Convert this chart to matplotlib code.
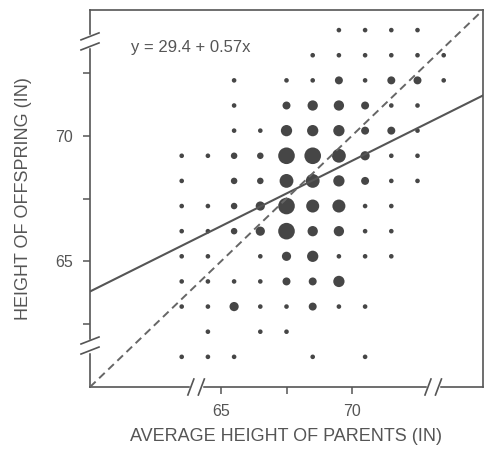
import matplotlib
matplotlib.use("Agg")
import matplotlib.pyplot as plt
from matplotlib.lines import Line2D
import numpy as np

# ---- data ----
parent_heights = [63.5, 64.5, 65.5, 66.5, 67.5, 68.5, 69.5, 70.5, 71.5, 72.5, 73.5]
child_heights = [74.2, 73.2, 72.2, 71.2, 70.2, 69.2, 68.2, 67.2, 66.2, 65.2, 64.2, 63.2, 62.2, 61.2]
# approximate counts per cell (rows = child heights, columns = parent heights)
counts = [
    [0, 0, 0, 0, 0, 0, 1, 1, 1, 1, 0],
    [0, 0, 0, 0, 0, 1, 1, 1, 1, 1, 1],
    [0, 0, 1, 0, 1, 1, 3, 1, 3, 3, 1],
    [0, 0, 1, 0, 3, 5, 5, 3, 1, 1, 0],
    [0, 0, 1, 1, 6, 6, 6, 3, 3, 1, 0],
    [1, 1, 2, 2, 13, 13, 9, 4, 1, 1, 0],
    [1, 0, 2, 2, 9, 9, 6, 3, 1, 1, 0],
    [1, 1, 2, 4, 13, 8, 8, 1, 1, 0, 0],
    [1, 1, 2, 4, 13, 5, 5, 1, 1, 0, 0],
    [1, 1, 0, 1, 4, 6, 1, 1, 1, 0, 0],
    [1, 1, 1, 1, 3, 3, 6, 0, 0, 0, 0],
    [1, 1, 4, 1, 1, 3, 1, 1, 0, 0, 0],
    [0, 1, 0, 1, 1, 0, 0, 0, 0, 0, 0],
    [1, 1, 1, 0, 0, 1, 0, 1, 0, 0, 0],
]
# regression line as drawn in the picture (end values read at the axis edges)
fit_x = [60, 75]
fit_y = [63.8, 71.6]
# identity line y = x
identity_x = [60, 75]
identity_y = [60, 75]
equation = "y = 29.4 + 0.57x"
x_ticks = [65, 67.5, 70]
x_ticklabels = ["65", "", "70"]
y_ticks = [62.5, 65, 67.5, 70, 72.5]
y_ticklabels = ["", "65", "", "70", ""]
x_label = "AVERAGE HEIGHT OF PARENTS (IN)"
y_label = "HEIGHT OF OFFSPRING (IN)"
lims = (60, 75)

# ---- styling ----
plt.rcParams['font.family'] = ['Liberation Sans', 'DejaVu Sans']
gray = '#555555'
dot = '#464646'

fig = plt.figure(figsize=(4.89, 4.5), dpi=100)
W, H = 489, 450
ax = fig.add_axes([90 / W, 1 - 387 / H, (483 - 90) / W, (387 - 10) / H])
ax.set_xlim(*lims)
ax.set_ylim(*lims)

xs, ys, ss = [], [], []
for i, yv in enumerate(child_heights):
    for j, xv in enumerate(parent_heights):
        c = counts[i][j]
        if c > 0:
            xs.append(xv)
            ys.append(yv)
            ss.append(c)
ax.scatter(xs, ys, s=np.array(ss) * 11, color=dot, edgecolors='none', zorder=3)

ax.plot(fit_x, fit_y, color=gray, lw=1.5, zorder=4)
ax.plot(identity_x, identity_y, color='#666666', lw=1.4, ls=(0, (4, 2.5)), zorder=4)

ax.text(61.55, 73.5, equation, fontsize=12, color=gray, ha='left', va='center')

for sp in ax.spines.values():
    sp.set_color(gray)
    sp.set_linewidth(1.2)

ax.set_xticks(x_ticks)
ax.set_xticklabels(x_ticklabels)
ax.set_yticks(y_ticks)
ax.set_yticklabels(y_ticklabels)
ax.tick_params(axis='both', direction='out', length=5, width=1.1, color=gray,
               labelcolor=gray, labelsize=11.5, pad=7)
ax.set_xlabel(x_label, fontsize=13, color=gray, labelpad=7)
ax.set_ylabel(y_label, fontsize=13, color=gray, labelpad=17)

# ---- axis break marks ----
fig.canvas.draw()
to_fig = fig.transFigure.inverted()


def px(xd, yd):
    return ax.transData.transform((xd, yd))


def fig_line(p0, p1, **kw):
    a = to_fig.transform(p0)
    b = to_fig.transform(p1)
    fig.add_artist(Line2D([a[0], b[0]], [a[1], b[1]], transform=fig.transFigure, **kw))


def ybreak(y0, y1):
    p0 = px(lims[0], y0)
    p1 = px(lims[0], y1)
    fig_line(p0, p1, color='white', lw=2.5, zorder=10)
    for p in (p0, p1):
        fig_line((p[0] - 9, p[1] - 3.5), (p[0] + 9, p[1] + 3.5), color=gray, lw=1.2, zorder=11)


def xbreak(x0, x1):
    p0 = px(x0, lims[0])
    p1 = px(x1, lims[0])
    fig_line(p0, p1, color='white', lw=2.5, zorder=10)
    for p in (p0, p1):
        fig_line((p[0] - 3, p[1] - 8), (p[0] + 3, p[1] + 8), color=gray, lw=1.2, zorder=11)


ybreak(73.55, 73.95)
ybreak(61.45, 61.85)
xbreak(63.85, 64.25)
xbreak(72.9, 73.3)

fig.savefig("out.png", dpi=100, facecolor='white')
